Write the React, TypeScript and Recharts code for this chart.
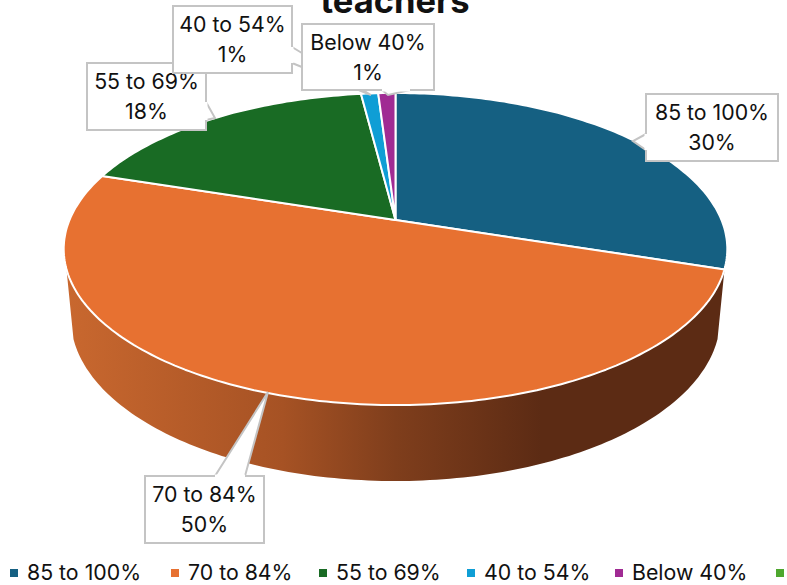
import { Legend, Pie, PieChart } from 'recharts';

const categories = ['85 to 100%', '70 to 84%', '55 to 69%', '40 to 54%', 'Below 40%', ''];
const shares = [30, 50, 18, 1, 1, 0];
const colors = ['#156082', '#E77131', '#196B24', '#0F9ED5', '#A02B93', '#4EA72E'];

const data = categories.map((name, i) => ({ name, value: shares[i], fill: colors[i] }));

// callout boxes: x, y, w, h and the wedge polygon pointing at the slice
const callouts = [
    { x: 646, y: 94, w: 132, h: 67, wedge: [[646, 134], [633, 141], [646, 150]] },
    { x: 145, y: 476, w: 119, h: 67, wedge: [[215, 476], [268, 392], [245, 476]] },
    { x: 87, y: 63, w: 119, h: 67, wedge: [[206, 102], [215, 118], [206, 120]] },
    { x: 173, y: 6, w: 119, h: 67, wedge: [[292, 47], [371, 95], [292, 63]] },
    { x: 302, y: 24, w: 132, h: 66, wedge: [[382, 90], [388, 95], [410, 90]] },
];

const legendMarkers = [10, 171, 319, 467, 615, 776];

const FONT = 'Inter, "Noto Sans", sans-serif';
const LABEL_SIZE = 21.3;
const CX = 395.5;
const CY = 220;
const RADIUS = 326;
const SQUASH = 0.462;
const TILT = 0.186;

// circle -> tilted disc, theta is clockwise from 12 o'clock
function project(theta: number, r: number) {
    const a = (theta * Math.PI) / 180;
    const u = Math.sin(a);
    const v = Math.cos(a);
    const w = 1 + TILT * v;
    return { x: CX + (r * u) / w, y: CY - (r * SQUASH * v) / w, v };
}

function lower(theta: number, r: number) {
    const p = project(theta, r);
    return { x: CX + (p.x - CX) * 0.979, y: p.y + 67 - 9 * p.v };
}

function sweep(from: number, to: number) {
    const out: number[] = [];
    for (let t = from; t < to; t += 1) out.push(t);
    out.push(to);
    return out;
}

const toPath = (pts: { x: number; y: number }[]) =>
    pts.map((p, i) => `${i ? 'L' : 'M'}${p.x.toFixed(1)} ${p.y.toFixed(1)}`).join(' ') + ' Z';

function DiscSlice(props: any) {
    const { startAngle, endAngle, outerRadius, fill } = props;
    const from = 90 - startAngle;
    const to = 90 - endAngle;
    if (to - from <= 0) return null;

    const top = sweep(from, to).map((t) => project(t, outerRadius));
    const wallFrom = Math.max(from, 108);
    const wallTo = Math.min(to, 252);
    let wall = null;
    if (wallTo > wallFrom) {
        const angles = sweep(wallFrom, wallTo);
        const pts = [
            ...angles.map((t) => project(t, outerRadius)),
            ...angles.slice().reverse().map((t) => lower(t, outerRadius)),
        ];
        wall = <path d={toPath(pts)} fill="url(#wallShade)" stroke="none"/>;
    }

    return (
        <g>
            {wall}
            <path d={toPath([{ x: CX, y: CY }, ...top])} fill={fill} stroke="#fff" strokeWidth={2}
                  strokeLinejoin="round"/>
        </g>
    );
}

function Callout(props: any) {
    const box = callouts[props.index];
    if (!box || !props.value) return null;
    const mid = box.y + box.h / 2;
    return (
        <g>
            <rect x={box.x} y={box.y} width={box.w} height={box.h} fill="#fff" stroke="#c4c4c4" strokeWidth={2}/>
            <polygon points={box.wedge.map((p) => p.join(',')).join(' ')} fill="#fff" stroke="#c4c4c4"
                     strokeWidth={2}/>
            <line x1={box.wedge[0][0]} y1={box.wedge[0][1]} x2={box.wedge[2][0]} y2={box.wedge[2][1]}
                  stroke="#fff" strokeWidth={3}/>
            <text x={box.x + box.w / 2} y={mid - 15} dy="0.36em" textAnchor="middle" fontFamily={FONT}
                  fontSize={LABEL_SIZE} fill="#111">{props.name}</text>
            <text x={box.x + box.w / 2} y={mid + 15} dy="0.36em" textAnchor="middle" fontFamily={FONT}
                  fontSize={LABEL_SIZE} fill="#111">{props.value}%</text>
        </g>
    );
}

function LegendRow({ payload }: any) {
    return (
        <div style={{ position: 'relative', height: 30 }}>
            {(payload || []).map((item: any, i: number) => (
                <div key={i} style={{ position: 'absolute', left: legendMarkers[i], top: 0, whiteSpace: 'nowrap' }}>
                    <span style={{
                        position: 'absolute', left: 0, top: 12, width: 8, height: 8, background: colors[i],
                    }}/>
                    <span style={{
                        position: 'absolute', left: 17, top: 0, fontFamily: FONT, fontSize: LABEL_SIZE,
                        lineHeight: '30px', color: '#111',
                    }}>{categories[i]}</span>
                </div>
            ))}
        </div>
    );
}

export default function App() {
    return (
        <div style={{ position: 'absolute', left: 0, top: 0, width: 787, height: 585, overflow: 'hidden' }}>
            <PieChart width={787} height={585} margin={{ top: 0, right: 0, bottom: 0, left: 0 }}>
                <defs>
                    <linearGradient id="wallShade" gradientUnits="userSpaceOnUse" x1={64} y1={0} x2={727} y2={0}>
                        <stop offset="0%" stopColor="#c9682f"/>
                        <stop offset="33%" stopColor="#a65224"/>
                        <stop offset="50%" stopColor="#7f3e1c"/>
                        <stop offset="72%" stopColor="#5c2b14"/>
                        <stop offset="100%" stopColor="#5c2b14"/>
                    </linearGradient>
                </defs>
                <text x={395} y={13} textAnchor="middle" fontFamily={FONT} fontSize={34.5} fontWeight={700}
                      fill="#111">teachers</text>
                <Pie
                    data={data}
                    dataKey="value"
                    nameKey="name"
                    cx={CX}
                    cy={CY}
                    outerRadius={RADIUS}
                    startAngle={90}
                    endAngle={-270}
                    shape={DiscSlice}
                    label={Callout}
                    labelLine={false}
                    isAnimationActive={false}
                />
                <Legend
                    content={<LegendRow/>}
                    wrapperStyle={{ position: 'absolute', left: 0, top: 557, width: 787, height: 30 }}
                />
            </PieChart>
        </div>
    );
}
